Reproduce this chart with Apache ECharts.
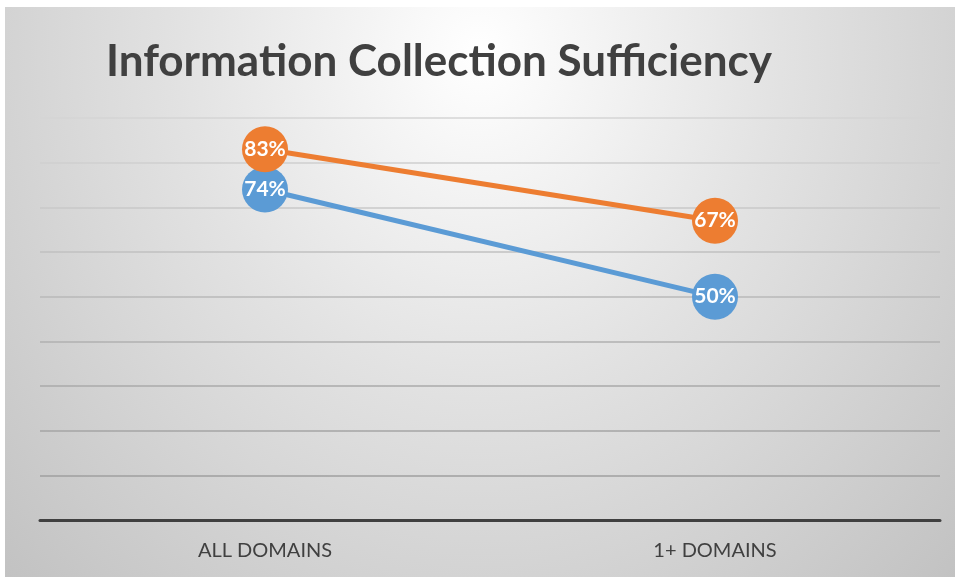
<!DOCTYPE html>
<html lang="en">
<head>
    <meta charset="UTF-8">
    <title>Information Collection Sufficiency</title>
    <script src="https://cdn.jsdelivr.net/npm/echarts@6/dist/echarts.min.js"></script>
    <style>
        html, body { margin: 0; padding: 0; background: #fff; }
        #chart {
            position: absolute;
            left: 5px; top: 7px;
            width: 950px; height: 570px;
            background: radial-gradient(ellipse farthest-corner at 50% 8%, #ffffff 0%, #e2e2e2 45%, #c2c2c2 100%);
        }
    </style>
</head>
<body>
<div id="chart"></div>
<script>
    var categories = ['ALL DOMAINS', '1+ DOMAINS'];
    var blueValues = [74, 50];
    var orangeValues = [83, 67];
    // grid line colours, bottom (0) to top (90)
    var gridColors = ['#404040', '#9f9f9f', '#a4a4a4', '#aaaaaa', '#b0b0b0', '#b8b8b8', '#c0c0c0', '#c8c8c8', '#cfcfcf', '#d4d4d4'];

    var chart = echarts.init(document.getElementById('chart'));

    function lineSeries(name, values, color) {
        return {
            name: name,
            type: 'line',
            data: values,
            symbol: 'circle',
            symbolSize: 46,
            lineStyle: { color: color, width: 5 },
            itemStyle: { color: color },
            label: {
                show: true,
                position: 'inside',
                formatter: '{c}%',
                color: '#fff',
                fontFamily: 'Lato',
                fontWeight: 'bold',
                fontSize: 21
            },
            emphasis: { disabled: true },
            animation: false
        };
    }

    chart.setOption({
        title: {
            text: 'Information Collection Sufficiency',
            left: 96,
            top: 28,
            textStyle: { fontFamily: 'Lato', fontWeight: 'bold', fontSize: 44, color: '#404040' }
        },
        grid: { left: 35, right: 15, top: 111, bottom: 57 },
        xAxis: {
            type: 'category',
            data: categories,
            boundaryGap: true,
            axisTick: { show: false },
            axisLine: { lineStyle: { color: '#404040', width: 3 } },
            axisLabel: { margin: 21, fontFamily: 'Lato', fontSize: 20, color: '#404040' }
        },
        yAxis: {
            type: 'value',
            min: 0,
            max: 90,
            interval: 10,
            axisLabel: { show: false },
            axisLine: { show: false },
            axisTick: { show: false },
            splitLine: { lineStyle: { color: gridColors, width: 1.5 } }
        },
        series: [
            lineSeries('blue', blueValues, '#5B9BD5'),
            lineSeries('orange', orangeValues, '#ED7D31')
        ]
    });
</script>
</body>
</html>
